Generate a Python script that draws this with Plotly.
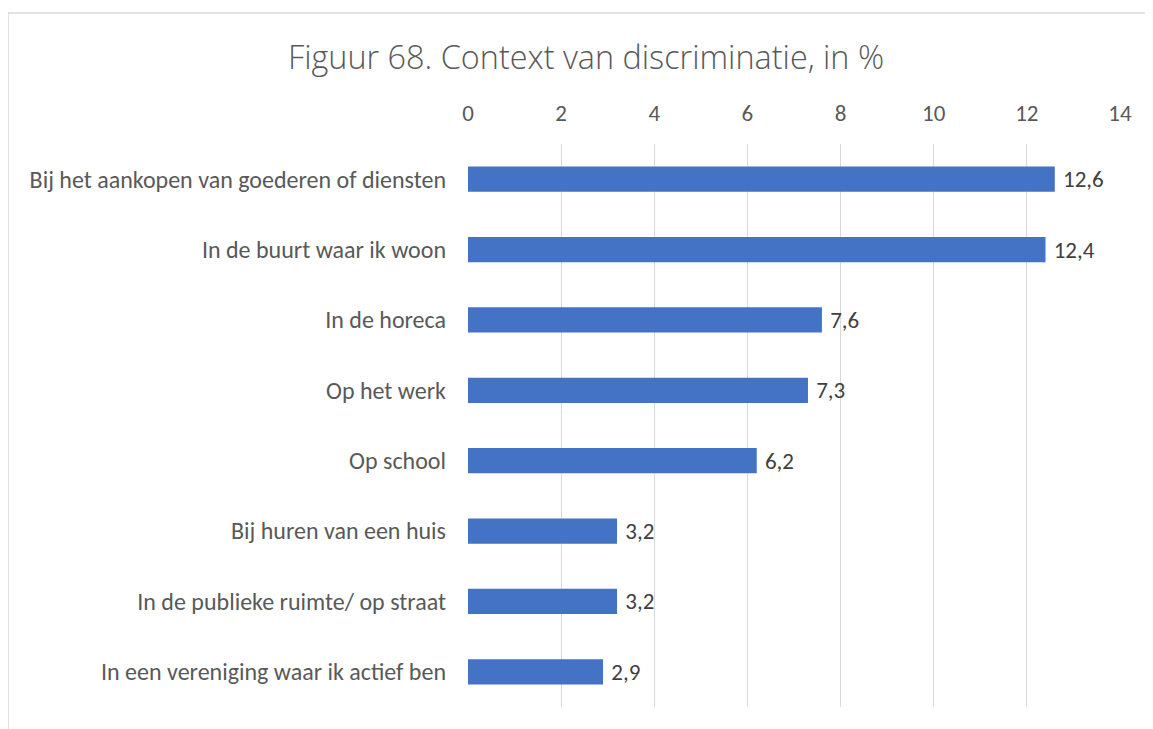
import plotly.graph_objects as go

categories = [
    "Bij het aankopen van goederen of diensten",
    "In de buurt waar ik woon",
    "In de horeca",
    "Op het werk",
    "Op school",
    "Bij huren van een huis",
    "In de publieke ruimte/ op straat",
    "In een vereniging waar ik actief ben",
]
values = [12.6, 12.4, 7.6, 7.3, 6.2, 3.2, 3.2, 2.9]
labels = ["12,6", "12,4", "7,6", "7,3", "6,2", "3,2", "3,2", "2,9"]
tick_vals = [0, 2, 4, 6, 8, 10, 12, 14]

# page body has an 8px margin, so the figure is placed at (8, 8)
W, H = 1153, 729
ml, mr, mt, mb = 460, 41, 136, 30
pw = W - ml - mr
ph = H - mt - mb

FONT = "Carlito, Calibri, Open Sans"

fig = go.Figure(go.Bar(
    x=values, y=categories, orientation="h",
    marker=dict(color="#4472C4", line=dict(width=0)),
    width=0.36,
    text=[" " + s for s in labels], textposition="outside",
    constraintext="none",
    textfont=dict(family=FONT, size=23, color="#404040"),
    cliponaxis=False,
))

fig.update_layout(
    width=W, height=H,
    margin=dict(l=ml, r=mr, t=mt, b=mb),
    paper_bgcolor="white", plot_bgcolor="white",
    title=dict(text="Figuur 68. Context van discriminatie, in %",
               x=(586 - 8) / W, xanchor="center",
               y=1 - 50 / H, yanchor="middle",
               font=dict(family="Open Sans", size=32.4, color="#595959", weight=300)),
    xaxis=dict(side="top", range=[0, 14], tickvals=tick_vals,
               ticktext=[str(t) for t in tick_vals],
               showgrid=True, gridcolor="#D9D9D9", gridwidth=1.3,
               zeroline=False, showline=False, ticks="",
               ticklabelstandoff=17,
               tickfont=dict(family=FONT, size=23, color="#595959")),
    yaxis=dict(autorange="reversed", showgrid=False, ticks="", showline=False,
               ticklabelstandoff=21,
               tickfont=dict(family=FONT, size=24, color="#595959")),
    showlegend=False,
    bargap=0.64,
)

fig.add_shape(type="rect", xref="paper", yref="paper",
              x0=(0 - ml) / pw, x1=(1142 - ml) / pw,
              y0=(H - mb - 800) / ph, y1=(H - mb - 5) / ph,
              line=dict(color="#D9D9D9", width=1.5), fillcolor="rgba(0,0,0,0)", layer="below")

fig.write_html("out.html")
